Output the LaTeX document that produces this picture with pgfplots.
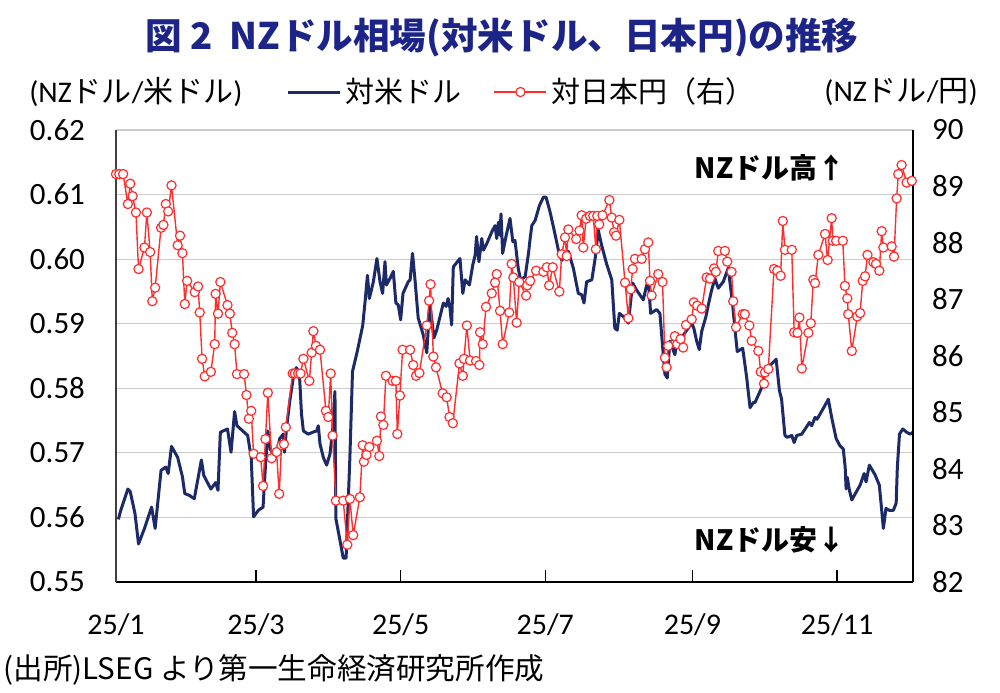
\documentclass[border=0pt]{standalone}
\usepackage{pgfplots}
\pgfplotsset{compat=1.18}
\usepackage{fontspec}
\setmainfont{Carlito}
\newfontfamily\jp{Noto Sans CJK JP}
\definecolor{navy}{RGB}{28,42,104}
\definecolor{lred}{RGB}{255,45,45}
\definecolor{ttl}{RGB}{28,36,135}

\pgfplotstableread{
d v
1 0.5597
2 0.5611
5 0.5644
6 0.5640
8 0.5606
9.5 0.5559
12 0.5583
15 0.5616
16.5 0.5583
19 0.5673
21 0.5678
22 0.5668
23.4 0.5710
26 0.5693
28 0.5663
29 0.5637
31 0.5634
33 0.5629
36 0.5689
37 0.5665
40 0.5644
42 0.5654
43 0.5642
44 0.5732
47 0.5737
48.5 0.5701
50 0.5764
51 0.5742
54 0.5732
55.5 0.5727
57 0.5693
58 0.5601
60 0.5611
62 0.5616
63 0.5680
64 0.5734
65 0.5706
66.3 0.5698
68 0.5704
69 0.5722
70.5 0.5729
71 0.5701
72 0.5742
73.3 0.5781
74.7 0.5816
76 0.5832
77.3 0.5824
78.2 0.5760
79 0.5734
81 0.5729
83 0.5732
84.6 0.5734
85.3 0.5742
86 0.5714
87.4 0.5693
88.8 0.5681
90.2 0.5698
91.3 0.5734
92.3 0.5795
92.7 0.5598
94.4 0.5565
95.8 0.5537
97 0.5537
98.6 0.5693
99.7 0.5826
101.7 0.5857
104 0.5897
105 0.5934
106 0.5975
106.8 0.5939
108.5 0.5965
110 0.6001
111.3 0.5965
112.4 0.5947
113.4 0.5996
114 0.5960
115.5 0.5970
116.9 0.5981
118 0.5932
119 0.5929
120 0.5906
121 0.5947
123.2 0.5965
124 0.5968
125 0.6009
126 0.5970
127.4 0.5909
129.5 0.5883
131 0.5855
132.3 0.5929
133 0.5911
134 0.5878
135.2 0.5890
136.6 0.5911
138 0.5932
139.2 0.5927
140 0.5939
140.8 0.5924
141.5 0.5898
142.2 0.5988
145 0.6001
146.2 0.5947
147.2 0.5968
149 0.5960
150.4 0.5991
151.4 0.6006
152 0.6035
153 0.5996
154.2 0.6032
154.9 0.6014
156.3 0.6024
158.4 0.6042
159.8 0.6052
160.5 0.6032
161.2 0.6057
161.9 0.6037
162.3 0.6070
163 0.6009
164.4 0.6035
166.1 0.6063
167.3 0.6027
168.2 0.6029
169.6 0.5985
170.6 0.5968
172.5 0.5973
173.9 0.6009
174.6 0.6032
175.3 0.6052
176.7 0.6060
178.5 0.6083
180.2 0.6096
181.3 0.6096
183 0.6073
184.7 0.6045
186.5 0.6014
187.9 0.5998
189.3 0.6004
190.7 0.6012
192.8 0.5986
194.9 0.5947
196.3 0.5945
197.3 0.5932
198.4 0.5965
200.6 0.5968
202 0.6001
203.3 0.6045
204.7 0.6022
206.8 0.5993
209 0.5968
210.3 0.5893
211.3 0.5890
212.2 0.5916
213.9 0.5911
216 0.5901
217.8 0.5963
219.5 0.5952
222.3 0.5937
223.4 0.5955
224.4 0.5968
225.4 0.5916
227.9 0.5922
229.3 0.5916
231.4 0.5822
232.4 0.5816
233.5 0.5873
235.6 0.5852
236.6 0.5873
238.4 0.5878
240.6 0.5890
242.7 0.5901
243.6 0.5893
244.8 0.5873
245.9 0.5860
246.9 0.5888
248.7 0.5911
249.7 0.5929
251.1 0.5952
252.5 0.5970
253.9 0.5955
256 0.5965
258.1 0.5986
259.9 0.5932
260.9 0.5893
261.9 0.5857
264.2 0.5862
265.8 0.5819
267.3 0.5770
268.7 0.5778
269.4 0.5778
272.2 0.5801
273.6 0.5824
275 0.5834
276.5 0.5838
278.3 0.5845
279.7 0.5796
280.6 0.5783
282 0.5727
283 0.5724
284.9 0.5727
285.9 0.5716
287 0.5727
289.1 0.5729
290.9 0.5739
292.3 0.5747
293.3 0.5742
294.7 0.5755
295.5 0.5752
296.8 0.5760
298.5 0.5771
300.3 0.5783
301.7 0.5755
303.6 0.5722
305.2 0.5711
306.6 0.5706
307.4 0.5678
307.8 0.5644
308.3 0.5662
309.2 0.5642
310.2 0.5627
312 0.5639
313.7 0.5650
315.4 0.5668
316.2 0.5655
317.6 0.5681
320 0.5666
321.8 0.5650
322.8 0.5611
323.5 0.5583
324.6 0.5614
326 0.5611
327.7 0.5611
328.9 0.5622
329.4 0.5678
330.3 0.5729
331.7 0.5737
333.3 0.5732
334.8 0.5729
336 0.5732
}\usd

\pgfplotstableread{
d v
0 89.22
1.4 89.22
3 89.22
5 88.69
6 89.05
7 88.83
8.4 88.54
9.5 87.54
12 87.92
13 88.54
14.4 87.84
15.3 86.97
16.5 87.21
19 88.27
20 88.32
21 88.69
22 88.56
23.4 89.02
26 87.96
27 88.13
28 87.82
29 86.92
30 87.33
33.2 87.13
34.6 87.23
35.3 86.77
36.3 85.95
37.4 85.64
40 85.72
41.6 86.21
42 87.10
43 86.75
44 87.31
47 86.90
48 86.75
49 86.41
50 86.21
51 85.68
54 85.68
55 85.31
56 84.89
57 85.03
58 84.27
61 84.21
62 83.70
63 84.53
64 85.35
65.6 84.19
67.7 84.30
68.8 83.56
69.8 84.42
70.8 84.44
71.6 84.74
74.5 85.69
75.4 85.69
76.8 85.69
77.8 85.69
79 85.95
81.5 85.56
82.5 86.06
83.2 86.44
84.3 86.18
86 86.11
88.5 85.03
89.5 84.92
90.5 85.69
91.3 84.59
92.7 83.44
95.8 83.44
97.5 82.66
98.6 83.47
100 82.83
102.8 83.50
104 84.42
104.5 84.13
105.6 84.25
106.8 84.39
110 84.50
111 84.23
111.7 84.93
112.7 84.78
113.8 85.65
116.6 85.56
118 85.56
118.6 84.62
119.7 85.30
120.8 86.11
124 86.11
125.3 85.84
126.5 85.65
127.9 85.70
131 86.54
132 86.98
132.6 87.27
133.8 85.99
134.9 85.80
137.7 85.34
139.4 85.27
140.6 84.92
142 84.81
144.8 85.87
146.2 85.65
146.7 85.95
147.9 86.54
149.3 85.92
151.8 85.91
153.2 85.84
153.5 86.42
154.6 86.21
156 86.87
158.4 87.11
159.8 87.30
160.5 87.45
161.9 86.80
163 86.21
165.8 86.77
166.8 87.63
167.5 87.39
168.9 86.59
170 87.31
172.9 87.07
173.4 87.25
174.6 87.33
177.1 87.51
180.2 87.49
181.6 87.57
182.6 87.25
184.1 87.57
186.9 87.14
187.9 87.80
189.3 88.10
190 87.77
190.7 88.24
194 88.07
195.4 88.22
196.3 88.49
197 87.92
198.2 88.43
199.8 88.48
201.2 88.48
202.3 87.89
202.9 88.48
203.7 88.33
205.1 88.49
208 88.76
209 88.45
210 88.19
210.8 88.13
212.2 88.41
214.6 87.30
216 86.67
217 87.18
217.8 87.54
218.8 87.72
221.6 87.72
223 87.89
224.4 88.01
225.1 87.33
225.8 87.07
228.6 87.45
230.4 87.31
231.4 85.97
232.1 85.80
232.8 86.18
235.6 86.35
236.6 86.21
238 86.30
239.1 86.15
240.3 86.55
242.7 86.65
243.6 86.95
245 86.89
246.9 86.84
249 87.39
250.4 87.37
252.1 87.55
252.9 87.49
253.9 87.86
256.7 87.86
257.7 87.67
259.5 87.49
260.2 86.97
261.4 86.51
264.2 86.74
265.1 86.74
267 86.54
268 86.27
270.8 86.09
271.8 85.72
273.2 85.51
273.6 85.71
275 85.77
277.4 87.54
278.8 87.51
280.2 87.42
281.1 88.39
282 87.88
284.9 87.88
285.9 86.42
287.3 86.41
288.1 86.68
289.1 85.78
291.9 86.41
292.9 86.58
294 87.35
294.7 87.29
296.1 87.79
298.9 88.16
300 87.70
301.7 88.44
302.2 88.04
303.6 88.04
306.4 88.04
307.3 87.24
308.3 87.02
308.7 86.74
310.2 86.09
312.5 86.70
313.7 86.76
314.8 87.33
315.8 87.41
316.8 87.79
319.3 87.66
320.4 87.63
321.8 87.51
322.8 88.21
323.5 87.92
327 87.94
328 87.76
329.1 88.79
329.8 89.22
331.2 89.38
333.3 89.07
335.5 89.10
}\jpy

\begin{document}
\begin{tikzpicture}[x=1pt,y=1pt]
\useasboundingbox (0,0) rectangle (500,346);
\begin{axis}[
  at={(58pt,55pt)}, anchor=south west, scale only axis,
  width=398.5pt, height=226pt,
  xmin=0, xmax=336, ymin=0.55, ymax=0.62,
  axis x line*=bottom, axis y line*=left,
  x axis line style={black, line width=0.8pt},
  y axis line style={black!75, line width=0.9pt},
  xtick={0,59,120,181,243,304},
  xticklabels={25/1,25/3,25/5,25/7,25/9,25/11},
  xtick align=inside,
  major tick length=6pt,
  xtick style={black, line width=0.8pt},
  ytick={0.55,0.56,0.57,0.58,0.59,0.60,0.61,0.62},
  ytick style={draw=none},
  ymajorgrids, grid style={gray!40, line width=0.6pt},
  /pgf/number format/fixed,
  /pgf/number format/fixed zerofill,
  /pgf/number format/precision=2,
  /pgf/number format/assume math mode=true,
  y tick label style={font=\fontsize{15.5}{18}\selectfont, xshift=-12pt},
  x tick label style={font=\fontsize{15}{18}\selectfont, yshift=-12.5pt},
  clip=false,
]
\addplot[navy, line width=1.5pt, line join=round] table[x=d,y=v] {\usd};
\end{axis}
\begin{axis}[
  at={(58pt,55pt)}, anchor=south west, scale only axis,
  width=398.5pt, height=226pt,
  xmin=0, xmax=336, ymin=82, ymax=90,
  axis x line=none, axis y line*=right,
  axis line style={black, line width=0.8pt},
  ytick={82,83,84,85,86,87,88,89,90},
  ytick style={draw=none},
  /pgf/number format/assume math mode=true,
  y tick label style={font=\fontsize{15.5}{18}\selectfont, xshift=6pt},
  legend columns=2,
  legend style={at={(0.51,1.084)}, anchor=center, draw=none, fill=none,
    font=\jp\fontsize{14.5}{16}\selectfont,
    /tikz/every even column/.append style={column sep=14pt}},
  legend image code/.code={\draw[mark repeat=2,mark phase=2,#1] plot coordinates {(0pt,0pt) (13pt,0pt) (26pt,0pt)};},
]
\addlegendimage{navy, line width=1.5pt}
\addlegendentry{対米ドル}
\addplot[lred, line width=0.7pt, mark=*, mark size=2.3pt, mark options={fill=white, draw=lred, line width=0.6pt}] table[x=d,y=v] {\jpy};
\addlegendentry{対日本円（右）}
\end{axis}
\node[text=ttl, font=\jp\bfseries\fontsize{18.3}{20}\selectfont] at (251,327) {図 2\ \ NZドル相場(対米ドル、日本円)の推移};
\node[anchor=west, font=\fontsize{15}{17}\selectfont, inner sep=0pt] at (14.5,300) {(NZ{\jp ドル}/{\jp 米ドル})};
\node[anchor=east, font=\fontsize{15}{17}\selectfont, inner sep=0pt] at (489,300) {(NZ{\jp ドル}/{\jp 円})};
\node[font=\jp\bfseries\fontsize{14}{16}\selectfont] at (385,262) {NZドル高↑};
\node[font=\jp\bfseries\fontsize{14}{16}\selectfont] at (385,76) {NZドル安↓};
\node[anchor=west, font=\jp\fontsize{14.8}{16}\selectfont, inner sep=0pt] at (1.5,11) {(出所)LSEG より第一生命経済研究所作成};
\end{tikzpicture}
\end{document}
